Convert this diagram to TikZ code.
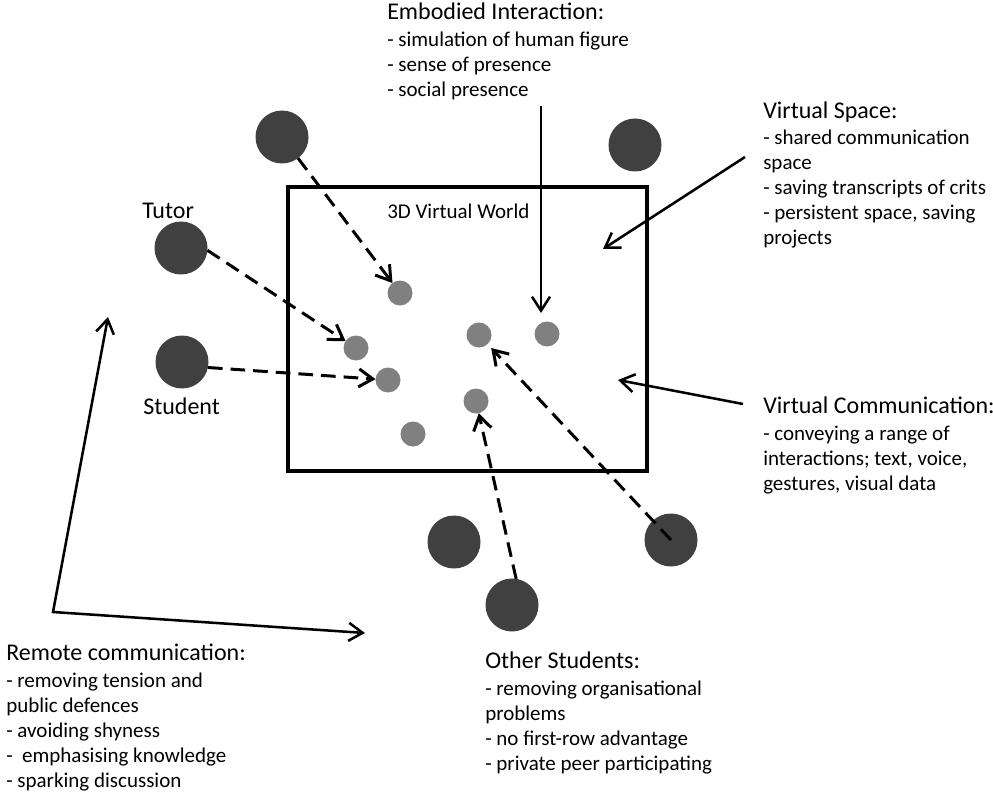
\documentclass[tikz,border=0pt]{standalone}
\usepackage{fontspec}
\setmainfont{Carlito}
\usetikzlibrary{arrows.meta}
\definecolor{dotdark}{HTML}{404040}
\definecolor{dotgrey}{HTML}{808080}
\begin{document}
\begin{tikzpicture}[x=0.75pt,y=-0.75pt,
  bigdot/.style={circle,fill=dotdark,minimum size=39.75pt,inner sep=0pt,outer sep=0pt},
  smalldot/.style={circle,fill=dotgrey,minimum size=18.75pt,inner sep=0pt,outer sep=0pt},
  barb/.style={-{Straight Barb[length=10.5pt,width=13.5pt]}},
  link/.style={barb,line width=2.25pt,dash pattern=on 11pt off 6pt},
  pointer/.style={barb,line width=1.9pt},
  worldbox/.style={draw,line width=3pt,minimum width=269.25pt,minimum height=213pt,inner sep=0pt},
  % multi-line blocks are placed by the baseline of their last line
  txt/.style={anchor=base west,inner sep=0pt,align=left,font=\fontsize{15.75}{18.75}\selectfont},
  lbl/.style={anchor=base west,inner sep=0pt,font=\fontsize{18}{21}\selectfont}
]
\newcommand\headline[1]{{\fontsize{18}{18.75}\selectfont #1}\\[1.5pt]}
\useasboundingbox (0,0) rectangle (993,795);

% the shared virtual world
\node[worldbox] (world) at (467.5,329) {};
\node[txt] (worldlbl) at (387,219) {3D Virtual World};

% participants outside the world
\node[bigdot] (p1) at (282,137) {};
\node[bigdot] (p2) at (635,145) {};
\node[bigdot] (tutor) at (181,248) {};
\node[bigdot] (student) at (182,362) {};
\node[bigdot] (p5) at (454,542) {};
\node[bigdot] (p6) at (671,540) {};
\node[bigdot] (p7) at (512,605) {};
\node[lbl] (tutorlbl) at (142,219) {Tutor};
\node[lbl] (studentlbl) at (143,414) {Student};

% avatars inside the world
\node[smalldot] (a) at (400,293) {};
\node[smalldot] (b) at (356,348) {};
\node[smalldot] (c) at (388,380) {};
\node[smalldot] (d) at (479,335) {};
\node[smalldot] (e) at (547,334) {};
\node[smalldot] (f) at (476,401) {};
\node[smalldot] (g) at (413,434) {};

% participants mapped onto their avatars
\draw[link] (p1) -- (a);
\draw[link] (tutor.-5) -- (b);
\draw[link] (student.-12) -- (c);
\draw[link,shorten >=4pt] (p6.center) -- (d);
\draw[link] (p7.81) -- (f);

% annotation texts
\node[txt] (embodied) at (387,97) {\headline{Embodied Interaction:}- simulation of human figure\\- sense of presence\\- social presence};
\node[txt] (space) at (763,245) {\headline{Virtual Space:}- shared communication\\space\\- saving transcripts of crits\\- persistent space, saving\\projects};
\node[txt] (comm) at (763,490) {\headline{Virtual Communication:}- conveying a range of\\interactions; text, voice,\\gestures, visual data};
\node[txt] (remote) at (6,787) {\headline{Remote communication:}- removing tension and\\public defences\\- avoiding shyness\\-\ \ emphasising knowledge\\- sparking discussion};
\node[txt] (others) at (485,770) {\headline{Other Students:}- removing organisational\\problems\\- no first-row advantage\\- private peer participating};

% annotation pointers
\coordinate (embfrom) at (541,106);
\coordinate (embto) at (541,313);
\coordinate (spacefrom) at (745,157);
\coordinate (spaceto) at (603,249);
\coordinate (commfrom) at (743,404);
\coordinate (commto) at (618,380);
\coordinate (remoteup) at (108,317);
\coordinate (remotecorner) at (53,612);
\coordinate (remoteright) at (365,633);
\draw[pointer] (embfrom) -- (embto);
\draw[pointer] (spacefrom) -- (spaceto);
\draw[pointer] (commfrom) -- (commto);
\draw[pointer,{Straight Barb[length=10.5pt,width=13.5pt]}-{Straight Barb[length=10.5pt,width=13.5pt]}] (remoteup) -- (remotecorner) -- (remoteright);
\end{tikzpicture}
\end{document}
